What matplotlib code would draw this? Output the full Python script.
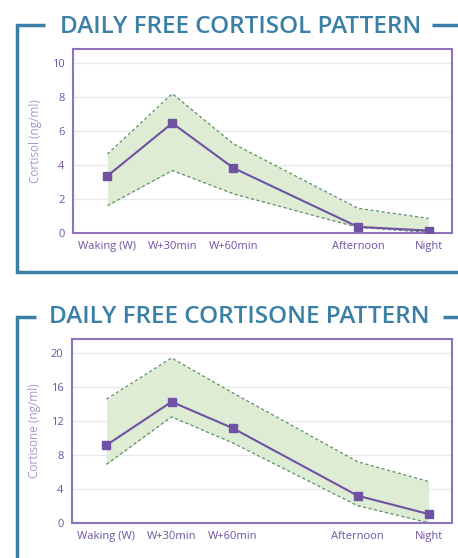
import numpy as np
import matplotlib.pyplot as plt
from matplotlib.lines import Line2D

plt.rcParams['font.family'] = ['Open Sans', 'DejaVu Sans']

# Sample times and where they sit along the x axis
times = ['Waking (W)', 'W+30min', 'W+60min', 'Afternoon', 'Night']
x_pos = [0, 1, 1.94, 3.86, 4.95]

# Free cortisol (ng/ml): mean and reference range
cortisol_mean = [3.35, 6.45, 3.82, 0.36, 0.14]
cortisol_high = [4.63, 8.18, 5.24, 1.45, 0.86]
cortisol_low = [1.6, 3.67, 2.3, 0.33, 0.04]

# Free cortisone (ng/ml): mean and reference range
cortisone_mean = [9.14, 14.24, 11.14, 3.18, 1.02]
cortisone_high = [14.55, 19.4, 15.3, 7.18, 4.85]
cortisone_low = [6.87, 12.47, 9.4, 2.0, 0.0]

W, H = 458, 558
BLUE = '#3a7fa6'
PURPLE = '#6f52a3'
LIGHT_PURPLE = '#a596cc'
SPINE = '#8f74bd'
FILL = '#ddecd2'
DASH = '#5d8f6e'

fig = plt.figure(figsize=(W / 100, H / 100), dpi=100)


def px(x, y):
    return x / W, 1 - y / H


def frame_line(points):
    xs, ys = zip(*[px(x, y) for x, y in points])
    fig.add_artist(Line2D(xs, ys, transform=fig.transFigure,
                          color=BLUE, lw=2.5, solid_capstyle='butt',
                          solid_joinstyle='miter'))


def panel(rect, mean, high, low, ymax, yticks, ylabel):
    ax = fig.add_axes(rect)
    ax.fill_between(x_pos, low, high, color=FILL, lw=0, zorder=1)
    ax.plot(x_pos, high, color=DASH, lw=0.9, ls=(0, (2.5, 2)), zorder=2)
    ax.plot(x_pos, low, color=DASH, lw=0.9, ls=(0, (2.5, 2)), zorder=2)
    ax.plot(x_pos, mean, color=PURPLE, lw=1.5, marker='s', ms=6,
            mfc=PURPLE, mec=PURPLE, zorder=3)
    ax.set_xlim(-0.53, 5.31)
    ax.set_ylim(0, ymax)
    ax.set_yticks(yticks)
    ax.set_xticks(x_pos)
    ax.set_xticklabels(times)
    ax.tick_params(length=0, labelsize=8, colors=PURPLE, pad=6)
    ax.yaxis.grid(True, color='#e9e9e9', lw=1)
    ax.set_axisbelow(True)
    for s in ax.spines.values():
        s.set_color(SPINE)
        s.set_linewidth(1.5)
    ax.set_ylabel(ylabel, color=LIGHT_PURPLE, fontsize=8.5, labelpad=7)
    return ax


# Cortisol panel
panel([73 / W, 1 - 233 / H, 379 / W, 184 / H],
      cortisol_mean, cortisol_high, cortisol_low,
      10.8, [0, 2, 4, 6, 8, 10], 'Cortisol (ng/ml)')
fig.text(240.5 / W, 1 - 33 / H, 'DAILY FREE CORTISOL PATTERN', ha='center',
         va='baseline', fontsize=17.5, color=BLUE, fontweight='semibold')
frame_line([(45, 25), (16.5, 25), (16.5, 272), (458, 272)])
frame_line([(432, 25), (458, 25)])

# Cortisone panel
panel([72 / W, 1 - 522.7 / H, 380 / W, 183.4 / H],
      cortisone_mean, cortisone_high, cortisone_low,
      21.6, [0, 4, 8, 12, 16, 20], 'Cortisone (ng/ml)')
fig.text(239 / W, 1 - 323 / H, 'DAILY FREE CORTISONE PATTERN', ha='center',
         va='baseline', fontsize=17.5, color=BLUE, fontweight='semibold')
frame_line([(36, 317), (16.5, 317), (16.5, 558)])
frame_line([(443, 317), (458, 317)])

fig.savefig('out.png', dpi=100)
